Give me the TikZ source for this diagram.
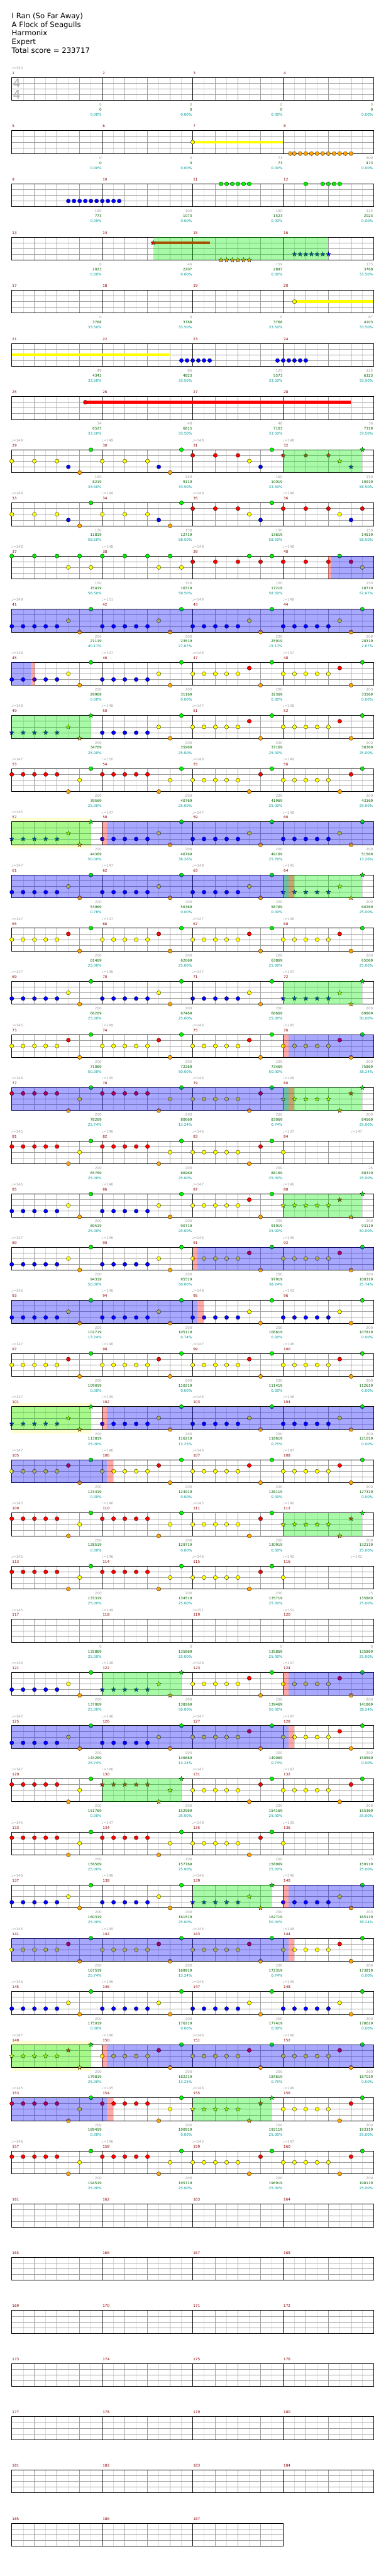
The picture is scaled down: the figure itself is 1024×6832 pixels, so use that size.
\documentclass[tikz,border=0pt]{standalone}
\usepackage{fontspec}
\setmainfont{DejaVu Sans}
\usepackage{tikz}
\definecolor{lane0}{HTML}{00F000}
\definecolor{lane1}{HTML}{FF0000}
\definecolor{lane2}{HTML}{FFFF00}
\definecolor{lane3}{HTML}{0000FF}
\definecolor{lane4}{HTML}{FFA500}
\definecolor{mred}{HTML}{8B0000}
\definecolor{gtext}{HTML}{A0A0A0}
\definecolor{cum}{HTML}{006400}
\definecolor{pcol}{HTML}{009B9B}
\definecolor{halfb}{HTML}{DCDCDC}
\definecolor{paley}{HTML}{FFFFD2}
\newcommand{\lab}{\fontsize{9.5}{11}\selectfont}
\newcommand{\setrow}[1]{\xdef\rowR{#1}\pgfmathsetmacro{\rowT}{205.6+141*#1}\xdef\rowT{\rowT}}
\newcommand{\grid}[1]{%
  \pgfmathtruncatemacro{\nK}{8*#1}%
  \pgfmathsetmacro{\rowW}{31.3+240*#1}%
  \foreach \kk in {1,3,...,\nK} {\draw[halfline] ({31.3+30*\kk},\rowT) -- ++(0,60.7);}
  \foreach \kk in {2,4,...,\nK} {\draw[beatline] ({31.3+30*\kk},\rowT) -- ++(0,60.7);}
  \foreach \jj in {1,2,3} {\draw[laneline] (31.3,{\rowT+15.175*\jj}) -- (\rowW,{\rowT+15.175*\jj});}
  \foreach \kk in {1,...,#1} {\draw[barline] ({31.3+240*\kk},\rowT) -- ++(0,60.7);}
  \draw[frame] (31.3,\rowT) rectangle (\rowW,{\rowT+60.7});
  \pgfmathtruncatemacro{\nL}{#1-1}%
  \foreach \kk in {0,...,\nL} {\pgfmathtruncatemacro{\mm}{4*\rowR+\kk+1}\node[mnum] (mn\mm) at ({32.3+240*\kk},{\rowT-11.5}) {\mm};}
}
\newcommand{\tempo}[2]{\node[tempo] (tp\rowR-#1) at ({30+30*(#1)},{\rowT-24.7}) {♩=#2};}
\newcommand{\tempos}[4]{\tempo{0}{#1}\tempo{8}{#2}\tempo{16}{#3}\tempo{24}{#4}}
\newcommand{\nc}[2]{\filldraw[notec,fill=lane#2] ({31.3+30*(#1)},{\rowT+15.175*(#2)}) circle[radius=5.4];}
\newcommand{\ns}[2]{\filldraw[notec,fill=lane#2] ({31.3+30*(#1)},{\rowT+15.175*(#2)})
  +(270:6.4) -- +(234:2.6) -- +(198:6.4) -- +(162:2.6) -- +(126:6.4) -- +(90:2.6)
  -- +(54:6.4) -- +(18:2.6) -- +(342:6.4) -- +(306:2.6) -- cycle;}
\newcommand{\nts}[2]{\foreach \ep/\lan in {#2}{\csname n#1\endcsname{\ep}{\lan}}}
\newcommand{\pat}[3]{\foreach \lan [count=\ii from 0] in #3 {\csname n#2\endcsname{8*#1+\ii}{\lan}}}
\newcommand{\sus}[3]{\fill[lane#3] ({31.3+30*(#1)},{\rowT+15.175*(#3)-3.7}) rectangle ({31.3+30*(#2)},{\rowT+15.175*(#3)+3.7});}
\newcommand{\spz}[2]{\fill[spfill] ({31.3+30*(#1)},\rowT) rectangle ({31.3+30*(#2)},{\rowT+60.7});}
\newcommand{\odz}[2]{\fill[odfill] ({31.3+30*(#1)},\rowT) rectangle ({31.3+30*(#2)},{\rowT+60.7});}
\newcommand{\pkz}[2]{\fill[pkfill] ({31.3+30*(#1)},\rowT) rectangle ({31.3+30*(#2)},{\rowT+60.7});}
\newcommand{\pyz}[2]{\fill[paley] ({31.3+30*(#1)},{\rowT-10}) rectangle ({31.3+30*(#2)},{\rowT+70.7});}
\newcommand{\labs}[1]{\foreach \gs/\cs/\ps [count=\ii from 0] in {#1}{%
  \node[lgray] (sg\rowR-\ii) at ({31.3+240*(\ii+1)-1.5},{\rowT+72.4}) {\gs};
  \node[lcum] (sc\rowR-\ii) at ({31.3+240*(\ii+1)-1.5},{\rowT+85.4}) {\cs};
  \node[lpct] (sp\rowR-\ii) at ({31.3+240*(\ii+1)-1.5},{\rowT+98.9}) {\ps\%};}}
\def\pBYOG{3,3,3,3,3,2,4,0}
\def\pYROG{2,2,2,2,2,1,4,0}
\def\pROYG{1,1,1,1,1,4,2,0}
\def\pYORG{2,2,2,2,2,4,1,0}

\begin{document}
\begin{tikzpicture}[x=1pt, y=-1pt,
  halfline/.style={draw=halfb, line width=0.8pt},
  beatline/.style={draw=gtext, line width=0.8pt},
  laneline/.style={draw=gtext, line width=1pt},
  barline/.style={draw=black, line width=0.9pt},
  frame/.style={draw=black, line width=1.2pt},
  notec/.style={draw=black, line width=0.5pt},
  spfill/.style={fill=lane0, fill opacity=0.34},
  odfill/.style={fill=lane3, fill opacity=0.34},
  pkfill/.style={fill=lane1, fill opacity=0.34},
  mnum/.style={text=mred, font=\lab, anchor=west, inner sep=0pt},
  tempo/.style={text=gtext, font=\lab, anchor=west, inner sep=0pt},
  lgray/.style={text=gtext, font=\lab, anchor=east, inner sep=0pt},
  lcum/.style={text=cum, font=\lab, anchor=east, inner sep=0pt},
  lpct/.style={text=pcol, font=\lab, anchor=east, inner sep=0pt},
  titl/.style={font=\fontsize{19.5}{23}\selectfont, anchor=base west, inner sep=0pt},
  tsig/.style={text=gtext!90, font=\fontsize{32}{32}\selectfont, inner sep=0pt}]
\path[use as bounding box, fill=white] (0,0) rectangle (1024,6832);

\node[titl] (song) at (31,49.3) {I Ran (So Far Away)};
\node[titl] (band) at (31,72) {A Flock of Seagulls};
\node[titl] (author) at (31,95) {Harmonix};
\node[titl] (level) at (31,118) {Expert};
\node[titl] (total) at (31,141.7) {Total score = 233717};

\setrow{0} \grid{4} \tempo{0}{150}
\node[tsig] (ts-up) at (44.5,220.5) {4};
\node[tsig] (ts-down) at (44.5,250.5) {4};
\labs{0/0/0.00, 0/0/0.00, 0/0/0.00, 0/0/0.00}

\setrow{1} \grid{4}
\sus{16}{24}{2} \nc{16}{2}
\nts{c}{24.63/4,25/4,25.5/4,26/4,26.5/4,27/4,27.5/4,28/4,28.5/4,29/4,29.5/4,30/4}
\labs{0/0/0.00, 0/0/0.00, 73/73/0.00, 300/473/0.00}

\setrow{2} \grid{4}
\nts{c}{5/3,5.5/3,6/3,6.5/3,7/3,7.5/3,8/3,8.5/3,9/3,9.5/3}
\nts{c}{18.5/0,19/0,19.5/0,20/0,20.5/0,21/0,26/0,27.5/0,28/0,28.5/0,29/0}
\labs{150/773/0.00, 100/1073/0.00, 150/1523/0.00, 125/2023/0.00}

\setrow{3} \grid{4}
\sus{12.5}{17.5}{1} \ns{12.5}{1}
\nts{s}{18.5/4,19/4,19.5/4,20/4,20.5/4,21/4}
\nts{s}{25/3,25.5/3,26/3,26.5/3,27/3,27.5/3,28/3}
\spz{12.5}{28}
\labs{0/2023/0.00, 46/2207/0.00, 159/2893/0.00, 175/3768/33.50}

\setrow{4} \grid{4}
\sus{25}{32}{2} \nc{25}{2}
\labs{0/3768/33.50, 0/3768/33.50, 0/3768/33.50, 67/4103/33.50}

\setrow{5} \grid{4}
\sus{0}{14}{2}
\nts{c}{15/3,15.5/3,16/3,16.5/3,17/3,17.5/3,23.5/3,24/3,24.5/3,25/3,25.5/3,26/3}
\labs{48/4343/33.50, 86/4823/33.50, 125/5573/33.50, 125/6323/33.50}

\setrow{6} \grid{4}
\sus{6.5}{30}{1} \nc{6.5}{1}
\labs{34/6527/33.50, 48/6815/33.50, 48/7103/33.50, 36/7319/33.50}

\setrow{7} \grid{4} \tempos{149}{149}{148}{148}
\nts{c}{0/2,2/2,4/2,5/3,6/4,7/0,8/2,10/2,12/2,13/3,14/4,15/0,16/1,18/1,20/1,21/2,22/3,23/0}
\nts{s}{24/1,26/1,28/1,29/2,30/3,31/0}
\spz{24}{31}
\labs{150/8219/33.50, 150/9119/33.50, 150/10019/33.50, 150/10919/58.50}

\setrow{8} \grid{4} \tempos{149}{149}{149}{148}
\nts{c}{0/2,2/2,4/2,5/3,6/4,7/0,8/2,10/2,12/2,13/3,14/4,15/0,16/1,18/1,20/1,21/2,22/3,23/0}
\nts{c}{24/1,26/1,28/1,29/2,30/3,31/1}
\labs{150/11819/58.50, 150/12719/58.50, 150/13619/58.50, 150/14519/58.50}

\setrow{9} \grid{4} \tempos{148}{148}{148}{148}
\nts{c}{0/0,2/0,4/0,5/2,6/0,7/2,8/0,10/0,12/0,13/2,14/0,15/2}
\nts{c}{16/1,18/1,20/1,21/0,22/1,23/0,24/1,26/1,28/1,29/0,30/1,31/2}
\pkz{28}{28.26} \odz{28.26}{32}
\labs{150/15419/58.50, 150/16319/58.50, 150/17219/58.50, 150/18719/52.67}

\setrow{10} \grid{4} \tempos{149}{151}{149}{148}
\pat{0}{c}{\pBYOG} \pat{1}{c}{\pBYOG} \pat{2}{c}{\pBYOG} \pat{3}{c}{\pBYOG}
\odz{0}{32}
\labs{200/21119/40.17, 200/23519/27.67, 200/25919/15.17, 200/28319/2.67}

\setrow{11} \grid{4} \tempos{148}{147}{148}{147}
\pat{0}{c}{\pBYOG} \pat{1}{c}{\pBYOG} \pat{2}{c}{\pYROG} \pat{3}{c}{\pYROG}
\odz{0}{1.7} \pkz{1.7}{2}
\labs{200/29969/0.00, 200/31169/0.00, 200/32369/0.00, 200/33569/0.00}

\setrow{12} \grid{4} \tempos{148}{148}{147}{148}
\pat{0}{s}{\pBYOG} \pat{1}{c}{\pBYOG} \pat{2}{c}{\pYROG} \pat{3}{c}{\pYROG}
\spz{0}{7}
\labs{200/34769/25.00, 200/35969/25.00, 200/37169/25.00, 200/38369/25.00}

\setrow{13} \grid{4} \tempos{147}{150}{148}{149}
\pat{0}{c}{\pROYG} \pat{1}{c}{\pROYG} \pat{2}{c}{\pYORG} \pat{3}{c}{\pYORG}
\labs{200/39569/25.00, 200/40769/25.00, 200/41969/25.00, 200/43169/25.00}

\setrow{14} \pyz{0}{7} \grid{4} \tempos{145}{147}{147}{148}
\pat{0}{s}{\pBYOG} \pat{1}{c}{\pBYOG} \pat{2}{c}{\pBYOG} \pat{3}{c}{\pBYOG}
\spz{0}{7} \pkz{8}{8.43} \odz{8.43}{32}
\labs{200/44369/50.00, 200/46769/38.26, 200/49169/25.76, 200/51569/13.26}

\setrow{15} \grid{4} \tempos{147}{147}{148}{145}
\pat{0}{c}{\pBYOG} \pat{1}{c}{\pBYOG} \pat{2}{c}{\pBYOG} \pat{3}{s}{\pBYOG}
\odz{0}{24.47} \spz{24}{31} \pkz{24.47}{25}
\labs{200/53969/0.76, 200/56369/0.00, 200/58769/0.00, 200/60269/25.00}

\setrow{16} \grid{4} \tempos{147}{147}{147}{146}
\pat{0}{c}{\pYROG} \pat{1}{c}{\pYROG} \pat{2}{c}{\pYROG} \pat{3}{c}{\pYROG}
\labs{200/61469/25.00, 200/62669/25.00, 200/63869/25.00, 200/65069/25.00}

\setrow{17} \grid{4} \tempos{147}{146}{147}{147}
\pat{0}{c}{\pBYOG} \pat{1}{c}{\pBYOG} \pat{2}{c}{\pBYOG} \pat{3}{s}{\pBYOG}
\spz{24}{31}
\labs{200/66269/25.00, 200/67469/25.00, 200/68669/25.00, 200/69869/50.00}

\setrow{18} \grid{4} \tempos{145}{149}{146}{145}
\pat{0}{c}{\pYROG} \pat{1}{c}{\pYROG} \pat{2}{c}{\pYROG} \pat{3}{c}{\pYROG}
\pkz{24}{24.47} \odz{24.47}{32}
\labs{200/71069/50.00, 200/72269/50.00, 200/73469/50.00, 200/75869/38.24}

\setrow{19} \grid{4} \tempos{146}{145}{146}{148}
\pat{0}{c}{\pROYG} \pat{1}{c}{\pROYG} \pat{2}{c}{\pYORG} \pat{3}{s}{\pYORG}
\odz{0}{24.47} \spz{24}{31} \pkz{24.47}{25}
\labs{200/78269/25.74, 200/80669/13.24, 200/83069/0.74, 200/84569/25.00}

\setrow{20} \grid{4} \tempos{145}{146}{146}{137} \tempo{30}{147}
\pat{0}{c}{\pROYG} \pat{1}{c}{\pROYG} \pat{2}{c}{\pYORG} \nc{24}{2}
\labs{200/85769/25.00, 200/86969/25.00, 200/88169/25.00, 25/88319/25.00}

\setrow{21} \grid{4} \tempos{146}{146}{147}{146}
\pat{0}{c}{\pBYOG} \pat{1}{c}{\pBYOG} \pat{2}{c}{\pYROG} \pat{3}{s}{\pYROG}
\spz{24}{31}
\labs{200/89519/25.00, 200/90719/25.00, 200/91919/25.00, 200/93119/50.00}

\setrow{22} \grid{4} \tempos{147}{146}{146}{146}
\pat{0}{c}{\pBYOG} \pat{1}{c}{\pBYOG} \pat{2}{c}{\pYROG} \pat{3}{c}{\pYROG}
\pkz{16}{16.43} \odz{16.43}{32}
\labs{200/94319/50.00, 200/95519/50.00, 200/97919/38.24, 200/100319/25.74}

\setrow{23} \grid{4} \tempos{146}{146}{148}{143}
\pat{0}{c}{\pBYOG} \pat{1}{c}{\pBYOG} \pat{2}{c}{\pBYOG} \pat{3}{c}{\pBYOG}
\odz{0}{16.43} \pkz{16.43}{16.96}
\labs{200/102719/13.24, 200/105119/0.74, 200/106619/0.00, 200/107819/0.00}

\setrow{24} \grid{4} \tempos{147}{146}{147}{146}
\pat{0}{c}{\pYROG} \pat{1}{c}{\pYROG} \pat{2}{c}{\pYROG} \pat{3}{c}{\pYROG}
\labs{200/109019/0.00, 200/110219/0.00, 200/111419/0.00, 200/112619/0.00}

\setrow{25} \pyz{0}{7} \grid{4} \tempos{147}{145}{146}{146}
\pat{0}{s}{\pBYOG} \pat{1}{c}{\pBYOG} \pat{2}{c}{\pBYOG} \pat{3}{c}{\pBYOG}
\spz{0}{7} \pkz{8}{8.43} \odz{8.43}{32}
\labs{200/113819/25.00, 200/116219/13.25, 200/118619/0.75, 200/121019/0.00}

\setrow{26} \grid{4} \tempos{147}{146}{146}{147}
\pat{0}{c}{\pYROG} \pat{1}{c}{\pYROG} \pat{2}{c}{\pYROG} \pat{3}{c}{\pYROG}
\odz{0}{8.43} \pkz{8.43}{8.96}
\labs{200/123419/0.00, 200/124919/0.00, 200/126119/0.00, 200/127319/0.00}

\setrow{27} \grid{4} \tempos{145}{146}{145}{146}
\pat{0}{c}{\pROYG} \pat{1}{c}{\pROYG} \pat{2}{c}{\pYORG} \pat{3}{s}{\pYORG}
\spz{24}{31}
\labs{200/128519/0.00, 200/129719/0.00, 200/130919/0.00, 200/132119/25.00}

\setrow{28} \grid{4} \tempos{145}{146}{146}{140} \tempo{30}{142}
\pat{0}{c}{\pROYG} \pat{1}{c}{\pROYG} \pat{2}{c}{\pYORG} \nc{24}{2}
\labs{200/133319/25.00, 200/134519/25.00, 200/135719/25.00, 25/135869/25.00}

\setrow{29} \grid{4} \tempos{145}{149}{151}{151}
\labs{0/135869/25.00, 0/135869/25.00, 0/135869/25.00, 0/135869/25.00}

\setrow{30} \grid{4} \tempos{146}{148}{148}{147}
\pat{0}{c}{\pBYOG} \pat{1}{s}{\pBYOG} \pat{2}{c}{\pYROG} \pat{3}{c}{\pYROG}
\spz{8}{15} \pkz{24}{24.47} \odz{24.47}{32}
\labs{200/137069/25.00, 200/138269/50.00, 200/139469/50.00, 200/141869/38.24}

\setrow{31} \grid{4} \tempos{147}{146}{147}{147}
\pat{0}{c}{\pBYOG} \pat{1}{c}{\pBYOG} \pat{2}{c}{\pYROG} \pat{3}{c}{\pYROG}
\odz{0}{24.47} \pkz{24.47}{25}
\labs{200/144269/25.74, 200/146669/13.24, 200/149069/0.74, 200/150569/0.00}

\setrow{32} \grid{4} \tempos{147}{146}{147}{147}
\pat{0}{c}{\pROYG} \pat{1}{s}{\pROYG} \pat{2}{c}{\pYORG} \pat{3}{c}{\pYORG}
\spz{8}{15}
\labs{200/151769/0.00, 200/152969/25.00, 200/154169/25.00, 200/155369/25.00}

\setrow{33} \grid{4} \tempos{145}{147}{148}{135}
\pat{0}{c}{\pROYG} \pat{1}{c}{\pROYG} \pat{2}{c}{\pYORG} \nc{24}{2}
\labs{200/156569/25.00, 200/157769/25.00, 200/158969/25.00, 25/159119/25.00}

\setrow{34} \grid{4} \tempos{146}{146}{146}{146}
\pat{0}{c}{\pBYOG} \pat{1}{c}{\pBYOG} \pat{2}{s}{\pBYOG} \pat{3}{c}{\pBYOG}
\spz{16}{23} \pkz{24}{24.47} \odz{24.47}{32}
\labs{200/160319/25.00, 200/161519/25.00, 200/162719/50.00, 200/165119/38.24}

\setrow{35} \grid{4} \tempos{145}{149}{145}{148}
\pat{0}{c}{\pYROG} \pat{1}{c}{\pYROG} \pat{2}{c}{\pYROG} \pat{3}{c}{\pYROG}
\odz{0}{24.47} \pkz{24.47}{25}
\labs{200/167519/25.74, 200/169919/13.24, 200/172319/0.74, 200/173819/0.00}

\setrow{36} \grid{4} \tempos{146}{146}{146}{145}
\pat{0}{c}{\pBYOG} \pat{1}{c}{\pBYOG} \pat{2}{c}{\pBYOG} \pat{3}{c}{\pBYOG}
\labs{200/175019/0.00, 200/176219/0.00, 200/177419/0.00, 200/178619/0.00}

\setrow{37} \pyz{0}{7} \grid{4} \tempos{147}{146}{146}{146}
\pat{0}{s}{\pYROG} \pat{1}{c}{\pYROG} \pat{2}{c}{\pYROG} \pat{3}{c}{\pYROG}
\spz{0}{7} \pkz{8}{8.43} \odz{8.43}{32}
\labs{200/179819/25.00, 200/182219/13.25, 200/184619/0.75, 200/187019/0.00}

\setrow{38} \grid{4} \tempos{145}{145}{146}{146}
\pat{0}{c}{\pROYG} \pat{1}{c}{\pROYG} \pat{2}{s}{\pYORG} \pat{3}{c}{\pYORG}
\odz{0}{8.43} \pkz{8.43}{8.96} \spz{16}{23}
\labs{200/189419/0.00, 200/190919/0.00, 200/192119/25.00, 200/193319/25.00}

\setrow{39} \grid{4} \tempos{146}{146}{145}{147}
\pat{0}{c}{\pROYG} \pat{1}{c}{\pROYG} \pat{2}{c}{\pYORG} \pat{3}{c}{\pYORG}
\labs{200/194519/25.00, 200/195719/25.00, 200/196919/25.00, 200/198119/25.00}

\setrow{40} \grid{4}
\setrow{41} \grid{4}
\setrow{42} \grid{4}
\setrow{43} \grid{4}
\setrow{44} \grid{4}
\setrow{45} \grid{4}
\setrow{46} \grid{3}
\end{tikzpicture}
\end{document}
